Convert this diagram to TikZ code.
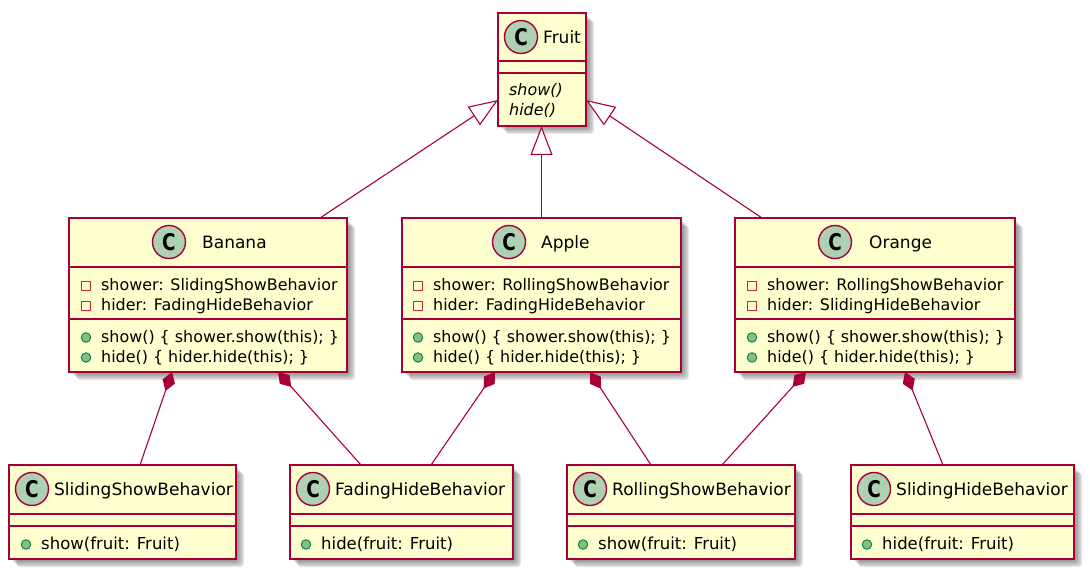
\documentclass[tikz,border=0pt]{standalone}
\usepackage{fontspec}
\setmainfont{DejaVu Sans}
\usetikzlibrary{arrows.meta}
\definecolor{umlline}{HTML}{A80036}
\definecolor{umlfill}{HTML}{FEFECE}
\definecolor{umlcirc}{HTML}{ADD1B2}
\definecolor{pubfill}{HTML}{84BE84}
\definecolor{publine}{HTML}{038048}
\definecolor{privline}{HTML}{C82930}
\tikzset{
  classbox/.style={draw=umlline,fill=umlfill,line width=2.4pt,inner sep=0pt,outer sep=0pt,anchor=north west},
  sepline/.style={draw=umlline,line width=1.3pt},
  shadowbox/.style={fill=black,opacity=.09,rounded corners=3pt},
  cicon/.style={circle,draw=umlline,fill=umlcirc,line width=1.4pt,minimum size=33pt,inner sep=0pt},
  cletter/.style={font=\fontsize{23}{23}\selectfont\bfseries,text=black,inner sep=0pt},
  title/.style={font=\fontsize{17}{18}\selectfont,anchor=base west,inner sep=0pt,text=black},
  member/.style={font=\fontsize{15.9}{18}\selectfont,anchor=base west,inner sep=0pt,text=black},
  widemember/.style={member,font=\fontsize{16.5}{18}\selectfont},
  absmember/.style={member,font=\fontsize{15.9}{18}\selectfont\itshape},
  pubicon/.style={circle,draw=publine,fill=pubfill,line width=.9pt,minimum size=9.5pt,inner sep=0pt},
  privicon/.style={rectangle,draw=privline,fill=none,line width=1pt,minimum size=9pt,inner sep=0pt},
  inherit/.style={draw=umlline,line width=1.1pt,-{Triangle[open,fill=white,length=29pt,width=22pt,line width=1.1pt]}},
  compose/.style={draw=umlline,line width=1.1pt,{Diamond[fill=umlline,length=20pt,width=13pt]}-},
}
\newcommand{\umlbox}[7]{%
  \foreach \d in {1,2.5,4,5.5,7,8}{\fill[shadowbox] (#2+\d,#3+\d) rectangle (#4+\d,#5+\d);}
  \node[classbox,minimum width={(#4-#2)*1pt},minimum height={(#5-#3)*1pt}] (#1) at (#2,#3) {};
  \draw[sepline] (#2,#6) -- (#4,#6);
  \draw[sepline] (#2,#7) -- (#4,#7);
}
\newcommand{\umlhead}[5]{% name, cx, cy, label x, label
  \node[cicon] (#1icon) at (#2,#3) {};
  \node[cletter] (#1c) at (#2,#3) {\scalebox{.8}[1]{C}};
  \node[title] (#1title) at (#4,#3+6.5) {#5};
}
\newcommand{\umlpriv}[4]{% name, x, baseline, text
  \node[privicon] (#1i) at (#2-15,#3-4.5) {};
  \node[member] (#1) at (#2,#3) {#4};
}
\newcommand{\umlpub}[4]{%
  \node[pubicon] (#1i) at (#2-15,#3-4.5) {};
  \node[member] (#1) at (#2,#3) {#4};
}
\newcommand{\umlpubw}[4]{%
  \node[pubicon] (#1i) at (#2-15,#3-4.5) {};
  \node[widemember] (#1) at (#2,#3) {#4};
}
\begin{document}
\begin{tikzpicture}[x=1pt,y=-1pt]
\useasboundingbox (0,0) rectangle (1090,575);
% Fruit
\umlbox{fruit}{498}{13}{586}{126}{61}{73}
\umlhead{fruit}{521}{37}{543}{Fruit}
\node[absmember] (fruitshow) at (509,96) {show()};
\node[absmember] (fruithide) at (509,115.5) {hide()};
% Banana
\umlbox{banana}{69}{218}{347}{372}{267}{319}
\umlhead{banana}{169}{242}{202}{Banana}
\umlpriv{bananaa}{101}{290}{shower: SlidingShowBehavior}
\umlpriv{bananab}{101}{310}{hider: FadingHideBehavior}
\umlpub{bananac}{101}{342}{show() \{ shower.show(this); \}}
\umlpub{bananad}{101}{362}{hide() \{ hider.hide(this); \}}
% Apple
\umlbox{apple}{402}{218}{681}{372}{267}{319}
\umlhead{apple}{509}{242}{541}{Apple}
\umlpriv{applea}{433}{290}{shower: RollingShowBehavior}
\umlpriv{appleb}{433}{310}{hider: FadingHideBehavior}
\umlpub{applec}{433}{342}{show() \{ shower.show(this); \}}
\umlpub{appled}{433}{362}{hide() \{ hider.hide(this); \}}
% Orange
\umlbox{orange}{735}{218}{1015}{372}{267}{319}
\umlhead{orange}{835}{242}{869}{Orange}
\umlpriv{orangea}{767}{290}{shower: RollingShowBehavior}
\umlpriv{orangeb}{767}{310}{hider: SlidingHideBehavior}
\umlpub{orangec}{767}{342}{show() \{ shower.show(this); \}}
\umlpub{oranged}{767}{362}{hide() \{ hider.hide(this); \}}
% Bottom row
\umlbox{sshow}{9}{465}{236}{559}{514}{526}
\umlhead{sshow}{32}{489}{54}{SlidingShowBehavior}
\umlpubw{sshowa}{41}{549}{show(fruit: Fruit)}
\umlbox{fhide}{290}{465}{513}{559}{514}{526}
\umlhead{fhide}{313}{489}{335}{FadingHideBehavior}
\umlpubw{fhidea}{321}{549}{hide(fruit: Fruit)}
\umlbox{rshow}{567}{465}{795}{559}{514}{526}
\umlhead{rshow}{590}{489}{612}{RollingShowBehavior}
\umlpubw{rshowa}{598}{549}{show(fruit: Fruit)}
\umlbox{shide}{851}{465}{1074}{559}{514}{526}
\umlhead{shide}{874}{489}{896}{SlidingHideBehavior}
\umlpubw{shidea}{882}{549}{hide(fruit: Fruit)}
% Inheritance (offsets from node corners, in pt)
\draw[inherit] ([xshift=251pt]banana.north west) -- ([yshift=26pt]fruit.south west);
\draw[inherit] ([xshift=139.5pt]apple.north west) -- ([xshift=43.5pt]fruit.south west);
\draw[inherit] ([xshift=27pt]orange.north west) -- ([yshift=26pt]fruit.south east);
% Composition
\draw[compose] ([xshift=103pt]banana.south west) -- ([xshift=131pt]sshow.north west);
\draw[compose] ([xshift=209pt]banana.south west) -- ([xshift=71pt]fhide.north west);
\draw[compose] ([xshift=93pt]apple.south west) -- ([xshift=141pt]fhide.north west);
\draw[compose] ([xshift=188pt]apple.south west) -- ([xshift=84pt]rshow.north west);
\draw[compose] ([xshift=71pt]orange.south west) -- ([xshift=155pt]rshow.north west);
\draw[compose] ([xshift=170pt]orange.south west) -- ([xshift=92pt]shide.north west);
\end{tikzpicture}
\end{document}
